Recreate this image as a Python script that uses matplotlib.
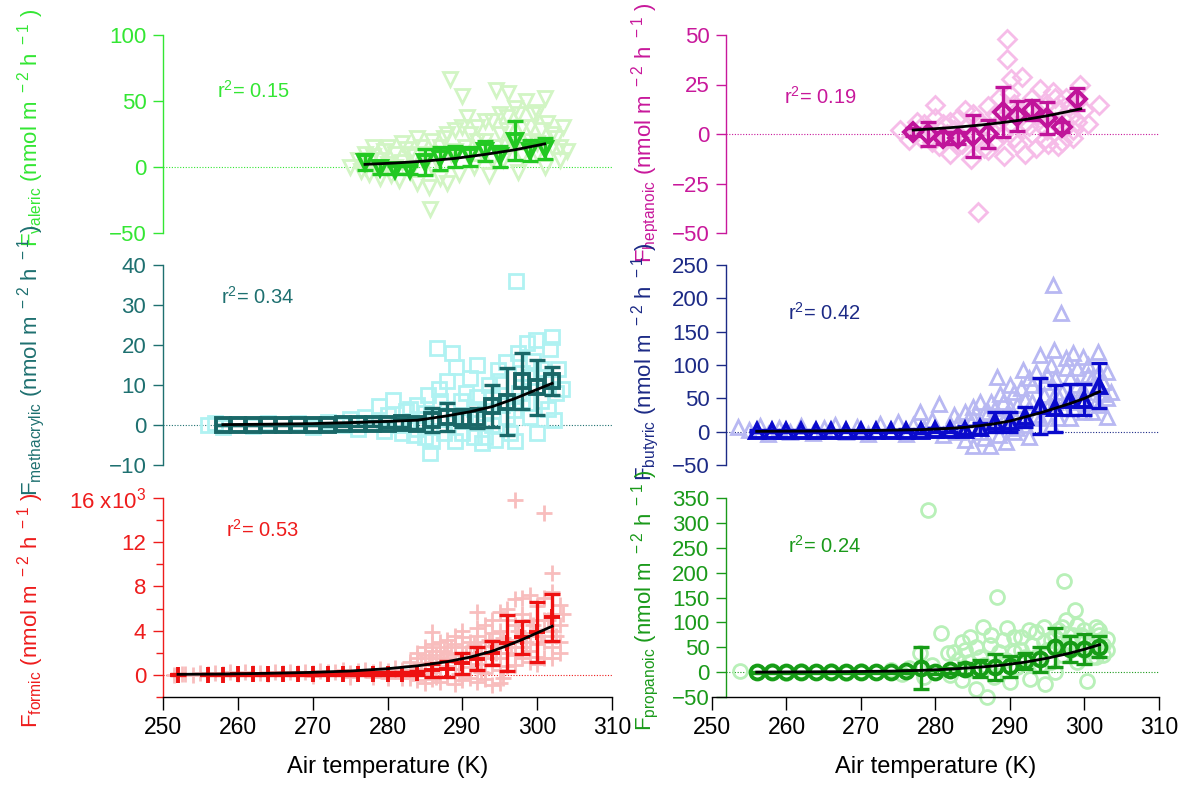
import matplotlib.pyplot as plt
import numpy as np

plt.rcParams['font.family'] = ['Liberation Sans', 'DejaVu Sans']
plt.rcParams['mathtext.fontset'] = 'custom'
plt.rcParams['mathtext.rm'] = 'Liberation Sans'
plt.rcParams['mathtext.default'] = 'regular'

# ---- valeric ----
valeric_pts_T = [275, 276, 276.5, 277, 277.5, 278, 278.5, 279, 279.5, 280, 280.5, 281, 281.5, 282, 282.5,
                 283, 283.5, 284, 284.5, 285, 285.5, 285.7, 286, 286.5, 287, 287.5, 288, 288.4, 288.5, 289,
                 289.5, 289.9, 290.3, 290.6, 291, 291.5, 292, 292.5, 293, 293.5, 294, 294.5, 294.5, 295,
                 295.5, 296, 296.1, 296.5, 297, 297.5, 298, 298.5, 299, 299.5, 300, 300.5, 301, 301.3,
                 302, 302.5, 303, 303.5, 304,
                 277, 278, 279, 280, 281, 282, 283, 284, 285, 286, 287, 288, 289, 290, 291, 292,
                 293, 294, 295, 296, 297, 298, 299, 300, 301, 302, 303, 300, 297.5]
valeric_pts_F = [0, 5, -3, 10, -5, 8, 0, -8, 12, 2, -6, 10, -10, 4, 14,
                 -4, 8, -12, 15, 2, -15, -32, 20, 6, -8, 22, -12, 67, 10, 28,
                 -5, 54, 15, 38, 25, 0, 30, 12, 20, -6, 35, 15, 58, 40,
                 5, 28, 56, 18, 45, -4, 30, 50, 20, 40, 10, 28, 52, 33,
                 15, 22, 5, 30, 12,
                 0, 15, 5, 15, 0, 18, 10, 22, 10, 0, 15, 25, 12, 30, 10, 20,
                 35, 5, 25, 38, 15, 8, 30, 18, 0, 25, 15, 42, 40]
valeric_bin_T = [277, 279, 281, 283, 285, 287, 289, 291, 293, 295, 297, 299, 301]
valeric_mean = [4, -1, -2, -2, 4, 6.5, 8, 8, 12, 8, 20, 12.5, 14]
valeric_err = [6, 4, 3, 3, 10, 8.5, 8, 7, 7.5, 8, 14.5, 8, 8]
valeric_fit_T = [277, 281, 285, 289, 293, 297, 301]
valeric_fit = [2, 3, 4.5, 6.5, 9.5, 13, 17.5]

# ---- heptanoic ----
heptanoic_pts_T = [275.2, 276.5, 277.5, 278, 279, 279.9, 280.5, 281, 282, 282.5, 283, 283.5, 284, 284.7,
                   285, 285.7, 286, 286.5, 287, 287.5, 288, 288.5, 289, 289.2, 289.6, 289.6, 290, 290.2,
                   290.5, 291, 291.6, 292, 292.5, 293, 293.5, 294, 294.5, 295, 295.1, 295.8, 296, 296.5,
                   297, 297.5, 298, 298.5, 299, 299.4, 300, 300.5, 301.9,
                   278.5, 279.5, 280, 281.5, 282, 283, 284, 285, 285.5, 286.5, 287, 288, 289, 290,
                   290.5, 291, 292, 293, 293.5, 294, 295, 296, 296.5, 297, 298, 298.5, 299]
heptanoic_pts_F = [2, -3, 6, -2, 3, 14.6, -6, 5, -10, 2, 8, -5, 12, -12.6,
                   0, -39.6, 6, -7, 14, 2, -4, 18, 8, -11, 48, 38, 20, 28,
                   -2, 12, 28.6, -10, 4, 18, 9, 22.7, -3, 15, -5, 21, 6, 12,
                   -4, 18, 8, 2, 16, 25, 12, 5, 14.6,
                   5, -4, 8, 0, 6, -6, 3, 10, -3, 4, -8, 10, 0, 5,
                   15, -5, 6, 0, -7, 10, 2, 18, -6, 8, 14, -2, 6]
heptanoic_bin_T = [277, 279, 281, 283, 285, 287, 289, 291, 293, 295, 297, 299]
heptanoic_mean = [1, 0, -2, -2, -1, 0, 11, 9, 12, 8, 3.5, 17.5]
heptanoic_err = [2, 6, 3, 3, 10.5, 7, 12.5, 7.5, 5, 8, 2.5, 5.5]
heptanoic_fit_T = [277, 280, 283, 286, 289, 292, 295, 298, 299.5]
heptanoic_fit = [2, 2.7, 3.5, 4.5, 5.8, 7.3, 9.2, 11.5, 12.7]

# ---- methacrylic ----
methacrylic_pts_T = [256, 257, 258, 260, 262, 264, 266, 268, 270, 272, 274, 275, 276, 277, 278, 278.8,
                     279.5, 280, 280.8, 281.5, 282, 282.5, 283, 283.5, 284, 284.5, 285, 285.4, 285.7,
                     286, 286.6, 286.9, 287.5, 288, 288.6, 289, 289.2, 289.8, 290.3, 291, 291.5, 292,
                     292.6, 293, 293.5, 294, 294.4, 294.8, 295.3, 295.9, 296.4, 296.9, 297.2, 297.6, 298,
                     298.6, 299, 299.5, 299.9, 300.5, 301, 301.7, 302.2, 302.5, 303.3,
                     283, 284, 285, 286, 287, 288, 289, 290, 290.5, 291.5, 292, 293, 294, 295, 296,
                     297, 297.5, 298, 299, 300, 300.5, 301.5, 302, 302.8]
methacrylic_pts_F = [0, 0.5, -0.5, 0.3, -0.3, 0.5, 0, 0.6, -0.4, 0.8, 0, 1.5, -1, 2, 0.5, 4.75,
                     -1.5, 2.5, 6.2, 0, -2, 3.5, 1, -2.5, 5, 0.5, -3, 7.5, -7,
                     2, 19.2, 9, -2, 4, 17.9, -4, 14.6, 6, 1, 11.7, -3, 7,
                     -4.6, 3, 10, 0, -3.75, 13.75, 5, 15.8, -2, 3.75, 36, 8, 13,
                     20.4, 2, 16, 21.3, 6, 12, 19, 1.2, 8, 9,
                     4, -1, 3, -4, 6, 11, 2, -2, 8, 4, 15, -3, 7, 11, 2,
                     -4, 18, 6, 12, -2, 14, 4, 22, 14]
methacrylic_bin_T = [258, 260, 262, 264, 266, 268, 270, 272, 274, 276, 278, 280, 282,
                     284, 286, 288, 290, 292, 294, 296, 298, 300, 302]
methacrylic_mean = [0, 0, 0, 0, 0, 0, 0, 0.1, 0.2, 0.2, 0.3, 0.3, 0.4,
                    0.3, 1.2, 2, 1.7, 1.7, 4.8, 5.8, 11, 9.4, 11]
methacrylic_err = [0.1, 0.1, 0.1, 0.1, 0.1, 0.1, 0.1, 0.3, 0.4, 0.5, 0.6, 0.8, 1.0,
                   1.2, 3, 3.5, 2.3, 2.5, 5.2, 8.4, 7, 6.8, 3.5]
methacrylic_fit_T = [258, 264, 270, 275, 280, 284, 288, 291, 294, 297, 300, 302]
methacrylic_fit = [0.1, 0.2, 0.35, 0.6, 0.9, 1.2, 2.3, 3.3, 4.6, 6.6, 8.9, 10.4]

# ---- butyric ----
butyric_pts_T = [253.5, 255, 256.5, 257.5, 259, 260.5, 262, 263.5, 265, 266.5, 268, 269.5, 271, 272.5,
                 274, 275, 276, 277, 277.9, 278.5, 279.5, 280.5, 281, 282, 282.5, 283, 284, 284.5,
                 285.1, 285.1, 286, 286.5, 287.3, 287.5, 288.2, 288.7, 289, 289.5, 290, 290.5, 291,
                 291.8, 292, 292.5, 293, 293.5, 294, 294.5, 295, 295.5, 295.8, 295.9, 296.2, 296.9,
                 297, 297.5, 298, 298.5, 299, 299.5, 299.8, 300.5, 301, 301.5, 301.8, 302.5, 303, 303,
                 286, 288, 290, 292, 294, 296, 298, 300, 302,
                 283, 284, 285, 286, 286.5, 287, 287.5, 288, 288.5, 289, 289.5, 290, 290.5, 291,
                 291.5, 292, 292.5, 293, 293.5, 294, 294.5, 295, 295.5, 296, 296.5, 297, 297.5, 298,
                 298.5, 299, 299.5, 300, 300.5, 301, 301.5, 302, 302.5, 303, 303.5]
butyric_pts_F = [7, 2, 8, -3, 6, 0, 9, -2, 5, 10, 0, 7, -3, 12,
                 3, 15, -4, 10, 30, 5, 18, 42, -5, 12, 25, 0, -12, 20,
                 37.5, -22, 8, 28, -22, 45, 82, 57, 15, -15, 35, 60, 5,
                 92, 48, -8, 70, 25, 115, 55, 85, 10, 220, 122, 60, 178,
                 35, 95, 20, 118, 70, 45, 112, 85, 30, 65, 120, 57, 22, 90,
                 0, 10, 20, 25, 40, 45, 55, 60, 40,
                 15, 30, 20, 45, -10, 30, 10, 35, -5, 45, 25, 70, 0, 40,
                 65, 10, 80, 45, 90, 20, 75, 35, 100, 80, 20, 60, 110, 80,
                 35, 95, 60, 30, 100, 80, 45, 90, 75, 50, 60]
butyric_bin_T = [256, 258, 260, 262, 264, 266, 268, 270, 272, 274, 276, 278, 280, 282,
                 284, 286, 288, 290, 292, 294, 296, 298, 300, 302]
butyric_mean = [1, 1, 1, 1, 1, 1, 1, 1, 1, 1, 1.5, 1.5, 2, 2,
                3, 5, 15, 15, 22, 38, 35, 48, 48, 69]
butyric_err = [1, 1, 1, 1, 1, 1, 1, 1, 2, 2, 2, 3, 3, 3,
               6, 8, 15, 15, 15, 42, 35, 23, 23, 34]
butyric_fit_T = [256, 264, 272, 278, 282, 284, 286, 288, 290, 292, 294, 296, 298, 300, 302]
butyric_fit = [0.5, 1, 1.8, 3, 5, 6.5, 9, 12, 16, 22, 28, 35, 42, 50, 60]

# ---- formic ----
formic_pts_T = [251.5, 252.5, 253, 254, 255, 256, 257, 258, 259, 260, 261, 262, 263, 264, 265, 266,
                267, 268, 269, 270, 271, 272, 273, 274, 275, 276, 277, 278, 279, 280, 281, 282,
                270, 275, 278, 280, 282,
                283, 283, 283, 283, 284, 284, 284, 284, 284, 285, 285, 285, 285, 285,
                286, 286, 286, 286, 286, 286, 287, 287, 287, 287, 287, 288, 288, 288, 288, 288,
                289, 289, 289, 289, 289, 290, 290, 290, 290, 290, 290, 291, 291, 291, 291, 291,
                292, 292, 292, 292, 292, 292, 293, 293, 293, 293, 293, 294, 294, 294, 294, 294,
                295, 295, 295, 295, 295, 295, 296, 296, 296, 296, 296,
                297, 297, 297, 297, 297, 297, 298, 298, 298, 298, 298,
                299, 299, 299, 299, 299, 300, 300, 300, 300, 300, 300.9, 300.9, 300.9, 300.9, 300.9,
                302, 302, 302, 302, 302, 302, 303, 303, 303, 303,
                283.5, 284.5, 285.5, 286.5, 287.5, 288.5, 289.5, 290.5, 291.5, 292.5, 293.5,
                294.5, 295.5, 296.5, 297.5, 298.5, 299.5, 300.5, 301.5, 302.5, 303.5,
                286.5, 289.5, 292.5, 295.5]
formic_pts_F = [0, 50, 100, 0, 150, 80, 200, 100, 250, 120, 300, 150, 200, 100, 250, 180,
                300, 150, 250, 200, 350, 250, 300, 400, 200, 350, 400, 300, 500, 350, 600, 400,
                -100, -200, -150, -250, -300,
                800, 200, -300, 1200, 1500, 500, -500, 2000, 900, 1800, 1000, 0, -700, 2500,
                3900, 2200, 1200, 300, -400, 2800, 2500, 1500, 600, -600, 3000, 3200, 2000, 800, -200, 1500,
                2800, 1800, 500, -800, 3500, 3400, 2500, 1200, 0, -500, 4000, 3000, 2000, 700, -300, 1500,
                5700, 3500, 2500, 1000, -600, 4200, 4500, 3000, 1500, 200, -400, 3800, 2600, 1000, -900, 5000,
                5700, 4000, 2800, 1500, 400, -700, 5000, 3200, 2000, 800, 6000,
                15800, 6900, 4500, 3000, 1800, 900, 5500, 3800, 2500, 1500, 7000,
                7200, 5000, 3500, 2200, 1200, 6200, 4000, 2800, 1600, 1000, 14600, 7000, 5000, 3000, 1500,
                9200, 7500, 5500, 4000, 2500, 1500, 6300, 4500, 3000, 2000,
                400, 1100, 1500, 1800, 2200, 2500, 1200, 2000, 2700, 1800, 3200,
                2000, 3300, 2500, 4000, 3000, 4500, 3500, 5000, 3500, 5500,
                -200, 100, 300, -300]
formic_bin_T = [252, 256, 258, 260, 262, 264, 266, 268, 270, 272, 274, 276, 278, 280, 282,
                284, 286, 288, 290, 292, 294, 296, 298, 300, 302]
formic_mean = [0, 20, 30, 40, 50, 60, 70, 80, 90, 100, 110, 120, 120, 100, 100,
               150, 400, 550, 1050, 1450, 2000, 2900, 3400, 3850, 5200]
formic_err = [50, 60, 60, 60, 70, 70, 80, 80, 90, 90, 100, 100, 120, 150, 150,
              200, 600, 700, 950, 1050, 1100, 2550, 1500, 2700, 2150]
formic_fit_T = [252, 258, 264, 270, 275, 280, 284, 288, 291, 294, 296, 298, 300, 302]
formic_fit = [50, 80, 140, 230, 350, 560, 820, 1200, 1600, 2150, 2650, 3200, 3800, 4400]

# ---- propanoic ----
propanoic_pts_T = [253.8, 256, 258, 260, 262, 264, 266, 268, 270, 272, 274, 275.5, 276.5, 277.9, 278.5,
                   279, 279.5, 280.8, 281.7, 282, 282.5, 283, 283.5, 284, 284.6, 285, 285.4, 286, 286.4,
                   286.9, 287.3, 287.8, 288.2, 288.6, 289, 289.6, 290, 290.5, 291, 291.5, 292, 292.7,
                   293, 293.5, 294, 294.5, 294.7, 295, 295.5, 296, 296.5, 297, 297.2, 297.5, 298,
                   298.7, 299, 299.5, 299.9, 300.3, 300.5, 301, 301.5, 301.9, 302.5, 303,
                   282.5, 283.5, 284.5, 285.5, 286.5, 287.5, 288.5, 289.5, 290.5, 291.5, 292.5, 293.5,
                   294.5, 295.5, 296, 297, 297.5, 298.5, 299, 300, 300.5, 301, 301.5, 302, 302.5, 303]
propanoic_pts_F = [2, 0, 3, -2, 2, 0, 3, -2, 2, 0, 4, -3, 8, 38, -10,
                   326, 15, 79, 38, -5, 12, 25, -15, 45, 71, 5, -33, 30, 91,
                   -50, 55, -9, 152, 20, 65, 88, -20, 40, 10, 70, 30, -13,
                   55, 80, 15, 91, -24, 45, 65, 0, 85, 35, 184, 105, 60,
                   125, 20, 75, 84, -18, 45, 65, 30, 84, 55, 66,
                   40, 60, 20, 50, 15, 75, 40, 25, 70, 45, 85, 30,
                   60, 20, 70, 90, 50, 75, 95, 70, 55, 30, 90, 75, 35, 45]
propanoic_bin_T = [256, 258, 260, 262, 264, 266, 268, 270, 272, 274, 276, 278, 280, 282,
                   284, 286, 288, 290, 292, 294, 296, 298, 300, 302]
propanoic_mean = [0, 0, 0, 0, 0, 0, 0, 0, 0, 0, 2, 9, 0, 4,
                  7, 7.5, 10.5, 11.5, 23, 26, 49.5, 46.5, 46, 51.5]
propanoic_err = [1, 1, 1, 1, 1, 1, 1, 1, 1, 1, 3, 42, 4, 5,
                 11, 16.5, 26.5, 20.5, 16, 25, 38.5, 25.5, 30, 20.5]
propanoic_fit_T = [256, 262, 268, 274, 278, 282, 286, 289, 292, 295, 298, 300, 302]
propanoic_fit = [0, 0.5, 1, 2, 3.5, 6, 10, 14, 20, 28, 38, 46, 55]

W, H = 1182, 787
fig = plt.figure(figsize=(W / 100, H / 100), dpi=100)


def add_axes_px(x0, x1, ytop, ybot):
    return fig.add_axes([x0 / W, 1 - ybot / H, (x1 - x0) / W, (ybot - ytop) / H])


def draw_panel(ax, pts_T, pts_F, bin_T, mean, err, fit_T, fit_F, marker, light, dark,
               axis_col, ylim, yticks, r2, r2_xy, spine_off=0.0, bottom=False, ms=10):
    ax.set_xlim(250, 310)
    ax.set_ylim(*ylim)
    ax.axhline(0, xmin=spine_off, color=axis_col, lw=0.8, ls=(0, (1, 1.5)), zorder=1)
    ax.plot(pts_T, pts_F, ls='none', marker=marker, ms=ms, mfc='none', mec=light, mew=2,
            zorder=2, clip_on=False)
    ax.errorbar(bin_T, mean, yerr=err, fmt='none', ecolor=dark, elinewidth=2.4,
                capsize=5.5, capthick=2.4, zorder=3)
    ax.plot(bin_T, mean, ls='none', marker=marker, ms=ms, mfc='none', mec=dark, mew=2.8, zorder=4)
    ax.plot(fit_T, fit_F, color='black', lw=2, zorder=5)

    ax.set_yticks(yticks)
    ax.spines['top'].set_visible(False)
    ax.spines['right'].set_visible(False)
    ax.spines['left'].set_color(axis_col)
    ax.spines['left'].set_linewidth(1)
    ax.spines['left'].set_position(('axes', spine_off))
    ax.tick_params(axis='y', colors=axis_col, labelsize=16, length=7, width=1, pad=5)
    ax.patch.set_visible(False)
    if bottom:
        ax.spines['bottom'].set_color('black')
        ax.spines['bottom'].set_linewidth(1)
        ax.set_xticks(np.arange(250, 311, 10))
        ax.tick_params(axis='x', colors='black', labelsize=16.5, length=9, width=1, pad=5)
        ax.set_xlabel('Air temperature (K)', fontsize=17, labelpad=12)
    else:
        ax.spines['bottom'].set_visible(False)
        ax.xaxis.set_visible(False)
    ax.text(r2_xy[0], r2_xy[1], r'$\mathrm{r}^{2}$= ' + r2, transform=ax.transAxes,
            color=axis_col, fontsize=14.5, va='center', ha='left')


left = (163, 612)
right = (712, 1159)
rows = [(35, 233), (265, 465), (498, 697)]
off_r = 14 / 447

c_val = '#33E633'
ax = add_axes_px(*left, *rows[0])
draw_panel(ax, valeric_pts_T, valeric_pts_F, valeric_bin_T, valeric_mean, valeric_err,
           valeric_fit_T, valeric_fit, 'v', '#D2F5C4', '#22C822', c_val,
           (-50, 100), [-50, 0, 50, 100], '0.15', (0.12, 0.72))

c_hep = '#C8189B'
ax = add_axes_px(*right, *rows[0])
draw_panel(ax, heptanoic_pts_T, heptanoic_pts_F, heptanoic_bin_T, heptanoic_mean, heptanoic_err,
           heptanoic_fit_T, heptanoic_fit, 'D', '#F6BCE8', '#C0149A', c_hep,
           (-50, 50), [-50, -25, 0, 25, 50], '0.19', (0.16, 0.69), spine_off=off_r, ms=9)

c_met = '#1E7070'
ax = add_axes_px(*left, *rows[1])
draw_panel(ax, methacrylic_pts_T, methacrylic_pts_F, methacrylic_bin_T, methacrylic_mean,
           methacrylic_err, methacrylic_fit_T, methacrylic_fit, 's', '#B0F2F2', '#1A6868', c_met,
           (-10, 40), [-10, 0, 10, 20, 30, 40], '0.34', (0.13, 0.84))

c_but = '#1C2A86'
ax = add_axes_px(*right, *rows[1])
draw_panel(ax, butyric_pts_T, butyric_pts_F, butyric_bin_T, butyric_mean, butyric_err,
           butyric_fit_T, butyric_fit, '^', '#B8B8F2', '#0A0ACC', c_but,
           (-50, 250), [-50, 0, 50, 100, 150, 200, 250], '0.42', (0.17, 0.76), spine_off=off_r)

c_for = '#EE1C1C'
ax = add_axes_px(*left, *rows[2])
draw_panel(ax, formic_pts_T, formic_pts_F, formic_bin_T, formic_mean, formic_err,
           formic_fit_T, formic_fit, '+', '#F8BDBD', '#EE1111', c_for,
           (-2000, 16000), [0, 4000, 8000, 12000, 16000], '0.53', (0.14, 0.84), bottom=True, ms=12)
ax.set_yticklabels(['0', '4', '8', '12', r'16 x10$^{3}$'])
ax.set_yticks([-2000, 2000, 6000, 10000, 14000], minor=True)
ax.tick_params(axis='y', which='minor', colors=c_for, length=5, width=1)

c_pro = '#1A9A1A'
ax = add_axes_px(*right, *rows[2])
draw_panel(ax, propanoic_pts_T, propanoic_pts_F, propanoic_bin_T, propanoic_mean, propanoic_err,
           propanoic_fit_T, propanoic_fit, 'o', '#B8F0B8', '#169C16', c_pro,
           (-50, 350), [-50, 0, 50, 100, 150, 200, 250, 300, 350], '0.24', (0.17, 0.76),
           spine_off=off_r, bottom=True)

# rotated y-axis titles
ylabels = [
    ('valeric', c_val, 31, 128),
    ('methacrylic', c_met, 31, 360),
    ('formic', c_for, 31, 610),
    ('heptanoic', c_hep, 645, 133),
    ('butyric', c_but, 645, 362),
    ('propanoic', c_pro, 645, 600),
]
for name, col, xp, yp in ylabels:
    fig.text(xp / W, 1 - yp / H,
             r'F$_{\mathrm{' + name + r'}}$ (nmol m$^{\ -2}$ h$^{\ -1}$ )',
             rotation=90, ha='center', va='center', color=col, fontsize=16)

fig.savefig('out.png', dpi=100)
